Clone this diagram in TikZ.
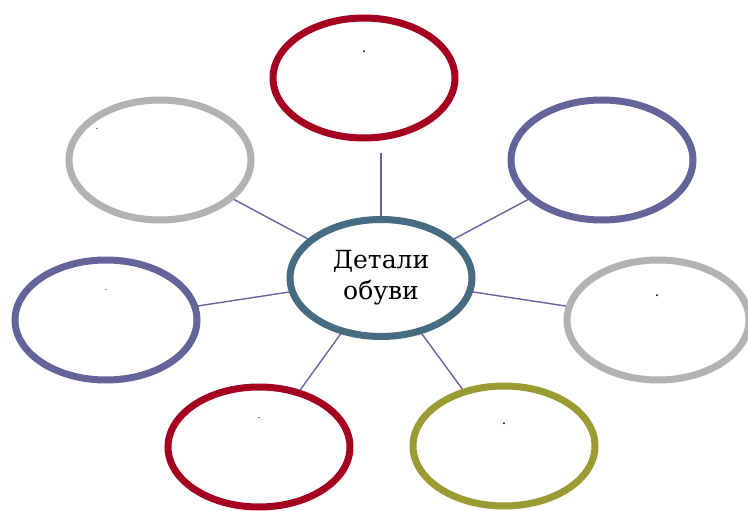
\documentclass[tikz,border=0pt]{standalone}
\usepackage{fontspec}
\setmainfont{DejaVu Serif}
\usetikzlibrary{shapes.geometric}
\definecolor{ovalred}{HTML}{A50021}
\definecolor{ovalviolet}{HTML}{64649A}
\definecolor{ovalgray}{HTML}{B2B2B2}
\definecolor{ovalolive}{HTML}{9B9A33}
\definecolor{ovalslate}{HTML}{476B80}
\definecolor{spoke}{HTML}{6464A0}
\tikzset{
  oval/.style={draw, ellipse, line width=7pt, fill=white, inner sep=0pt,
    minimum width=182pt, minimum height=120pt},
  hub/.style={draw=ovalslate, ellipse, line width=7pt, fill=white, inner sep=0pt,
    minimum width=182pt, minimum height=117pt, align=center,
    font=\fontsize{25}{31}\selectfont},
  dotmark/.style={anchor=base, inner sep=0pt, font=\fontsize{14}{14}\selectfont},
  smalldot/.style={dotmark, font=\fontsize{9}{9}\selectfont}
}
\begin{document}
\begin{tikzpicture}[x=1pt,y=-1pt]
\useasboundingbox (0,0) rectangle (748,511);

\node[hub] (0) at (381,278) {Детали\\обуви};
\node[oval, draw=ovalred] (1) at (364,78) {};
\node[oval, draw=ovalviolet] (2) at (602,160) {};
\node[oval, draw=ovalgray] (3) at (658,320) {};
\node[oval, draw=ovalolive] (4) at (504,446) {};
\node[oval, draw=ovalred] (5) at (259,447) {};
\node[oval, draw=ovalviolet] (6) at (106,320) {};
\node[oval, draw=ovalgray] (7) at (160,160) {};

\node[dotmark] (d1) at (364,53) {.};
\node[dotmark] (d3) at (657,296) {.};
\node[dotmark] (d4) at (504,424) {.};
\node[smalldot] (d5) at (259,418) {.};
\node[smalldot] (d6) at (106,290) {.};
\node[smalldot] (d7) at (97,130) {.};

\path[draw=spoke,line width=1.4pt,shorten >=11pt] (0.north) -- (0.north |- 1.south);
\path[draw=spoke,line width=1.4pt] (0) -- (2);
\path[draw=spoke,line width=1.4pt] (0) -- (3);
\path[draw=spoke,line width=1.4pt] (0) -- (4);
\path[draw=spoke,line width=1.4pt] (0) -- (5);
\path[draw=spoke,line width=1.4pt] (0) -- (6);
\path[draw=spoke,line width=1.4pt] (0) -- (7);
\end{tikzpicture}
\end{document}
